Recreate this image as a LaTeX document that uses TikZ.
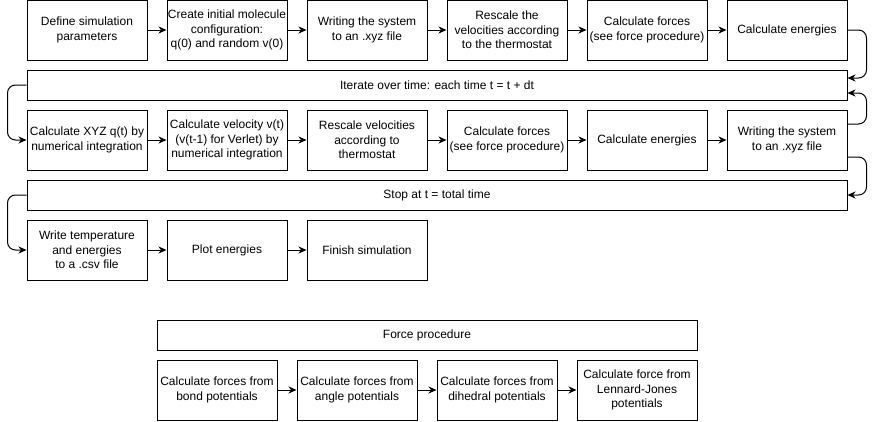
\documentclass[tikz,border=0pt]{standalone}
\usepackage{fontspec}
\setmainfont{Liberation Sans}
\usetikzlibrary{arrows.meta,calc}
\begin{document}
\begin{tikzpicture}[x=1pt,y=-1pt,
  box/.style={draw=black,line width=1pt,minimum width=120pt,minimum height=60pt,align=center,inner xsep=-3pt,inner ysep=0pt,font=\fontsize{12}{14.4}\selectfont},
  bar/.style={draw=black,line width=1pt,minimum height=30pt,inner sep=0pt,font=\fontsize{12}{14.4}\selectfont},
  conn/.style={line width=1pt,-{Stealth[length=8pt,width=7pt,inset=2.5pt]}},
  loop/.style={conn,rounded corners=8pt}]
\useasboundingbox (0,0) rectangle (876,421);
% row 1
\node[box] (r1a) at (87,30) {Define simulation\\parameters};
\node[box] (r1b) at (227,30) {Create initial molecule\\configuration:\\q(0) and random v(0)};
\node[box] (r1c) at (367,30) {Writing the system\\to an .xyz file};
\node[box] (r1d) at (507,30) {Rescale the\\velocities according\\to the thermostat};
\node[box] (r1e) at (647,30) {Calculate forces\\(see force procedure)};
\node[box] (r1f) at (787,30) {Calculate energies};
% iterate bar
\node[bar,minimum width=820pt] (itb) at (437,85) {Iterate over time: each time t = t + dt};
% row 2
\node[box] (r2a) at (87,140) {Calculate XYZ q(t) by\\numerical integration};
\node[box] (r2b) at (227,140) {Calculate velocity v(t)\\(v(t-1) for Verlet) by\\numerical integration};
\node[box] (r2c) at (367,140) {Rescale velocities\\according to\\thermostat};
\node[box] (r2d) at (507,140) {Calculate forces\\(see force procedure)};
\node[box] (r2e) at (647,140) {Calculate energies};
\node[box] (r2f) at (787,140) {Writing the system\\to an .xyz file};
% stop bar
\node[bar,minimum width=820pt] (stb) at (437,195) {Stop at t = total time};
% row 3
\node[box] (r3a) at (87,250) {Write temperature\\and energies\\to a .csv file};
\node[box] (r3b) at (227,250) {Plot energies};
\node[box] (r3c) at (367,250) {Finish simulation};
% force procedure
\node[bar,minimum width=540pt] (fpb) at (427,335) {Force procedure};
\node[box] (f1) at (217,390) {Calculate forces from\\bond potentials};
\node[box] (f2) at (357,390) {Calculate forces from\\angle potentials};
\node[box] (f3) at (497,390) {Calculate forces from\\dihedral potentials};
\node[box] (f4) at (637,390) {Calculate force from\\Lennard-Jones\\potentials};
% straight connectors
\draw[conn] (r1a.east) -- (r1b.west);
\draw[conn] (r1b.east) -- (r1c.west);
\draw[conn] (r1c.east) -- (r1d.west);
\draw[conn] (r1d.east) -- (r1e.west);
\draw[conn] (r1e.east) -- (r1f.west);
\draw[conn] (r2a.east) -- (r2b.west);
\draw[conn] (r2b.east) -- (r2c.west);
\draw[conn] (r2c.east) -- (r2d.west);
\draw[conn] (r2d.east) -- (r2e.west);
\draw[conn] (r2e.east) -- (r2f.west);
\draw[conn] (r3a.east) -- (r3b.west);
\draw[conn] (r3b.east) -- (r3c.west);
\draw[conn] (f1.east) -- (f2.west);
\draw[conn] (f2.east) -- (f3.west);
\draw[conn] (f3.east) -- (f4.west);
% loop connectors
\draw[loop] (r1f.east) -- ++(19,0) |- ($(itb.east)+(0,-7)$);
\draw[loop] ($(r2f.east)+(0,-16)$) -- ++(19,0) |- ($(itb.east)+(0,8)$);
\draw[loop] ($(r2f.east)+(0,17)$) -- ++(19,0) |- (stb.east);
\draw[loop] (itb.west) -- ++(-19,0) |- (r2a.west);
\draw[loop] (stb.west) -- ++(-19,0) |- (r3a.west);
\end{tikzpicture}
\end{document}
